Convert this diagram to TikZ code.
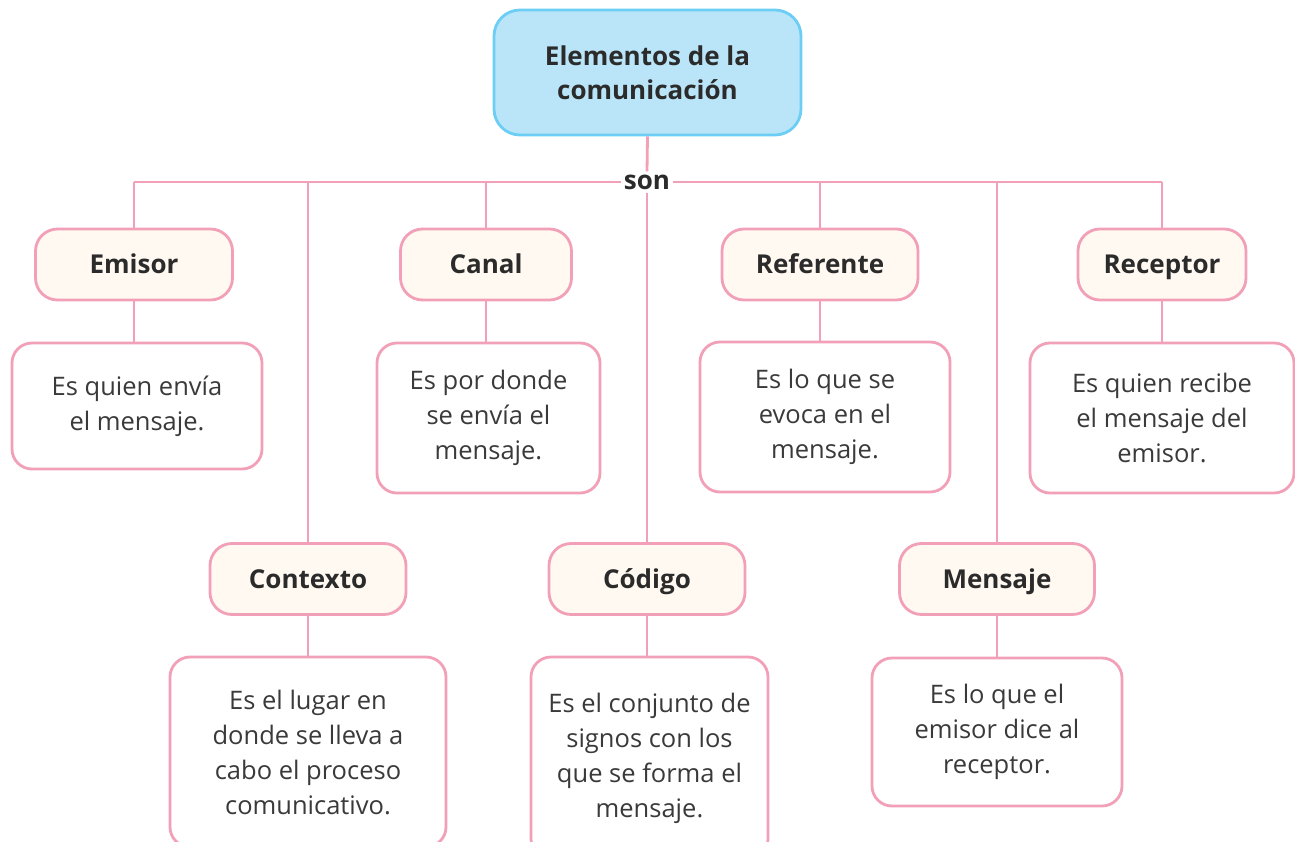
\documentclass[tikz,border=0pt]{standalone}
\usepackage{fontspec}
\setmainfont{Open Sans}
\definecolor{pinkline}{HTML}{F2A0B7}
\definecolor{cream}{HTML}{FFF9F1}
\definecolor{bluefill}{HTML}{BAE5F8}
\definecolor{blueline}{HTML}{6CCEF4}
\definecolor{txt}{HTML}{2B2B2B}
\definecolor{desctxt}{HTML}{3A3A3A}
\tikzset{
  conn/.style={draw=pinkline, line width=2.8pt},
  titlebox/.style={draw=blueline, fill=bluefill, line width=2.8pt, rounded corners=26pt,
    minimum width=307pt, minimum height=125pt, inner sep=0pt, align=center,
    font=\fontsize{26}{34}\selectfont\bfseries, text=txt},
  labelbox/.style={draw=pinkline, fill=cream, line width=2.8pt, rounded corners=22pt,
    minimum height=71pt, inner sep=0pt, align=center, text height=22pt, text depth=3.5pt,
    font=\fontsize{26}{34}\selectfont\bfseries, text=txt},
  descbox/.style={draw=pinkline, fill=white, line width=2.8pt, rounded corners=20pt,
    inner sep=0pt, align=center,
    font=\fontsize{25.5}{35}\selectfont, text=desctxt},
  sonlabel/.style={fill=white, inner sep=3pt, font=\fontsize{26}{30}\selectfont\bfseries, text=txt}
}
\begin{document}
\begin{tikzpicture}[x=1pt,y=-1pt]
\useasboundingbox (0,0) rectangle (1295,842);
\clip (0,0) rectangle (1295,842);
% title
\node[titlebox] (title) at (647.5,72.5) {Elementos de la\\comunicación};
\node[sonlabel] (son) at (647,182) {son};
% label boxes
\node[labelbox, minimum width=197pt] (emisor) at (134,264.5) {Emisor};
\node[labelbox, minimum width=171pt] (canal) at (486,264.5) {Canal};
\node[labelbox, minimum width=196pt] (referente) at (820,264.5) {Referente};
\node[labelbox, minimum width=168pt] (receptor) at (1162,264.5) {Receptor};
\node[labelbox, minimum width=196pt] (contexto) at (308,579) {Contexto};
\node[labelbox, minimum width=196pt] (codigo) at (647,579) {Código};
\node[labelbox, minimum width=195pt] (mensaje) at (997,579) {Mensaje};
% description boxes
\node[descbox, minimum width=250pt, minimum height=126pt] (emisorD) at (137,406) {Es quien envía\\el mensaje.};
\node[descbox, minimum width=223pt, minimum height=150pt] (canalD) at (488.5,418) {Es por donde\\se envía el\\mensaje.};
\node[descbox, minimum width=250pt, minimum height=150pt] (referenteD) at (825,417) {Es lo que se\\evoca en el\\mensaje.};
\node[descbox, minimum width=264pt, minimum height=150pt] (receptorD) at (1162,418) {Es quien recibe\\el mensaje del\\emisor.};
\node[descbox, minimum width=276pt, minimum height=190pt] (contextoD) at (308,752) {Es el lugar en\\donde se lleva a\\cabo el proceso\\comunicativo.};
\node[descbox, minimum width=237pt, minimum height=202pt] (codigoD) at (649.5,758) {Es el conjunto de\\signos con los\\que se forma el\\mensaje.};
\node[descbox, minimum width=250pt, minimum height=148pt] (mensajeD) at (997,732) {Es lo que el\\emisor dice al\\receptor.};
% connectors
\coordinate (busL) at (emisor.north |- son);
\coordinate (busR) at (receptor.north |- son);
\draw[conn] (title.south) -- (son.north);
\draw[conn] (busL) -- (son.west);
\draw[conn] (son.east) -- (busR);
\draw[conn] (busL) -- (emisor.north);
\draw[conn] (busR) -- (receptor.north);
\draw[conn] (canal.north |- son) -- (canal.north);
\draw[conn] (referente.north |- son) -- (referente.north);
\draw[conn] (contexto.north |- son) -- (contexto.north);
\draw[conn] (mensaje.north |- son) -- (mensaje.north);
\draw[conn] (son.south) -- (codigo.north);
\draw[conn] (emisor.south) -- (emisor.south |- emisorD.north);
\draw[conn] (canal.south) -- (canal.south |- canalD.north);
\draw[conn] (referente.south) -- (referente.south |- referenteD.north);
\draw[conn] (receptor.south) -- (receptorD.north);
\draw[conn] (contexto.south) -- (contextoD.north);
\draw[conn] (codigo.south) -- (codigo.south |- codigoD.north);
\draw[conn] (mensaje.south) -- (mensajeD.north);
\end{tikzpicture}
\end{document}
